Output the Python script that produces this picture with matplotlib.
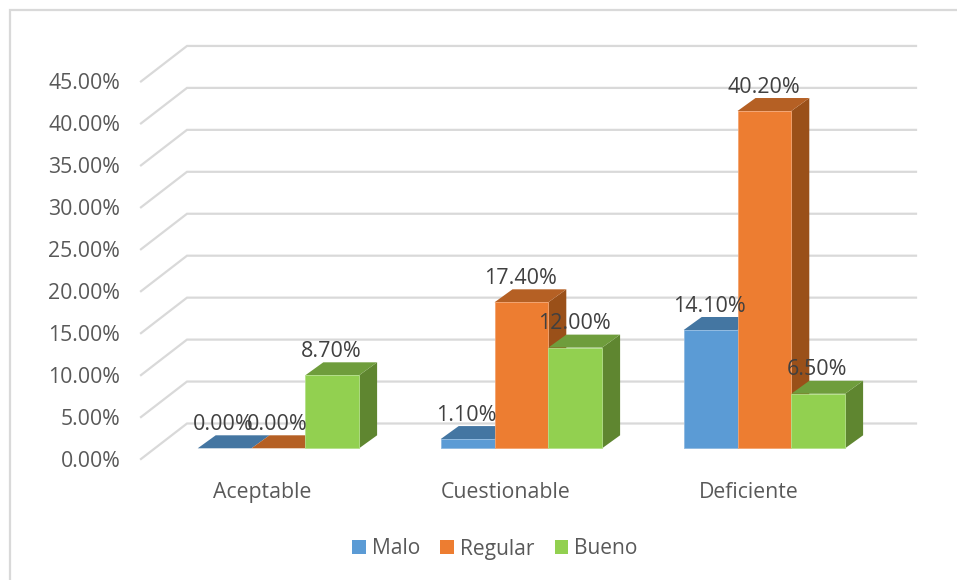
import matplotlib
matplotlib.use('Agg')
import matplotlib.pyplot as plt
from matplotlib.lines import Line2D
from matplotlib.patches import Patch, Polygon

categories = ['Aceptable', 'Cuestionable', 'Deficiente']
series_names = ['Malo', 'Regular', 'Bueno']
malo = [0.0, 1.1, 14.1]
regular = [0.0, 17.4, 40.2]
bueno = [8.7, 12.0, 6.5]
y_ticks = [0, 5, 10, 15, 20, 25, 30, 35, 40, 45]

front_colours = ['#5B9BD5', '#ED7D31', '#92D050']
top_colours = ['#4476A2', '#B56024', '#6F9D3C']
side_colours = ['#3D6A92', '#9A5019', '#5F8630']
edge_colours = ['#8DB8E0', '#F3A36F', '#B4E08A']
grid_colour = '#D9D9D9'
tick_colour = '#595959'
label_colour = '#404040'

W, H = 957, 580
PX_PER_CAT = 243.0
PX_PER_PCT = 8.39
LEFT, ZERO_Y = 141, 459
TEXT_SIZE = 15.3

plt.rcParams['font.family'] = 'Open Sans'

fig = plt.figure(figsize=(W / 100, H / 100), dpi=100)
ax = fig.add_axes([LEFT / W, 1 - ZERO_Y / H, 3 * PX_PER_CAT / W, 45 * PX_PER_PCT / H])
ax.set_xlim(0, 3)
ax.set_ylim(0, 45)
ax.patch.set_visible(False)
for s in ax.spines.values():
    s.set_visible(False)

# depth of the floor and of each bar, converted from pixels to data units
wall_dx, wall_dy = 46 / PX_PER_CAT, 35.5 / PX_PER_PCT
bar_dx, bar_dy = 18 / PX_PER_CAT, 13 / PX_PER_PCT
base_y = 10.7 / PX_PER_PCT
group_left = 56.7 / PX_PER_CAT
bar_w = 53.8 / PX_PER_CAT

for v in y_ticks:
    ax.plot([0, wall_dx, 3 + wall_dx], [v, v + wall_dy, v + wall_dy], color=grid_colour,
            linewidth=1.6, clip_on=False, zorder=1, solid_joinstyle='miter')

for j, values in enumerate([malo, regular, bueno]):
    for i, val in enumerate(values):
        x0 = i + group_left + j * bar_w
        x1 = x0 + bar_w
        y0 = base_y
        y1 = base_y + val
        z = 3 + j + i * 3
        if val > 0:
            side = [(x1, y0), (x1 + bar_dx, y0 + bar_dy), (x1 + bar_dx, y1 + bar_dy), (x1, y1)]
            ax.add_patch(Polygon(side, closed=True, fc=side_colours[j], ec='none', clip_on=False, zorder=z))
            front = [(x0, y0), (x1, y0), (x1, y1), (x0, y1)]
            ax.add_patch(Polygon(front, closed=True, fc=front_colours[j], ec=edge_colours[j], linewidth=0.6,
                                 clip_on=False, zorder=z + 0.2))
        top = [(x0, y1), (x1, y1), (x1 + bar_dx, y1 + bar_dy), (x0 + bar_dx, y1 + bar_dy)]
        ax.add_patch(Polygon(top, closed=True, fc=top_colours[j], ec='none', clip_on=False, zorder=z + 0.1))
        ax.annotate('%.2f%%' % val, xy=((x0 + x1) / 2, y1), xytext=(-1, 24), textcoords='offset pixels',
                    ha='center', va='center', fontsize=TEXT_SIZE + 0.2, color=label_colour, zorder=30,
                    annotation_clip=False)

ax.set_yticks(y_ticks)
ax.set_yticklabels(['%.2f%%' % v for v in y_ticks], va='center_baseline')
ax.set_xticks([0.5, 1.5, 2.5])
ax.set_xticklabels(categories)
ax.tick_params(axis='y', length=0, pad=15, labelsize=TEXT_SIZE, labelcolor=tick_colour)
ax.tick_params(axis='x', length=0, pad=16.5, labelsize=TEXT_SIZE, labelcolor=tick_colour)

# chart frame: only the top and left edges are in the picture
fig.add_artist(Line2D([10 / W, 10 / W, 1], [0, 1 - 10 / H, 1 - 10 / H], color=grid_colour, linewidth=1.6,
                      solid_joinstyle='miter'))

handles = [Patch(fc=c, ec='none') for c in front_colours]
fig.legend(handles, series_names, loc='center', bbox_to_anchor=(495 / W, 1 - 549 / H), ncols=3, frameon=False,
           fontsize=TEXT_SIZE - 0.2, labelcolor=tick_colour, handlelength=0.65, handleheight=0.65, handletextpad=0.3,
           columnspacing=0.95)

fig.savefig('out.png', dpi=100, facecolor='white')
